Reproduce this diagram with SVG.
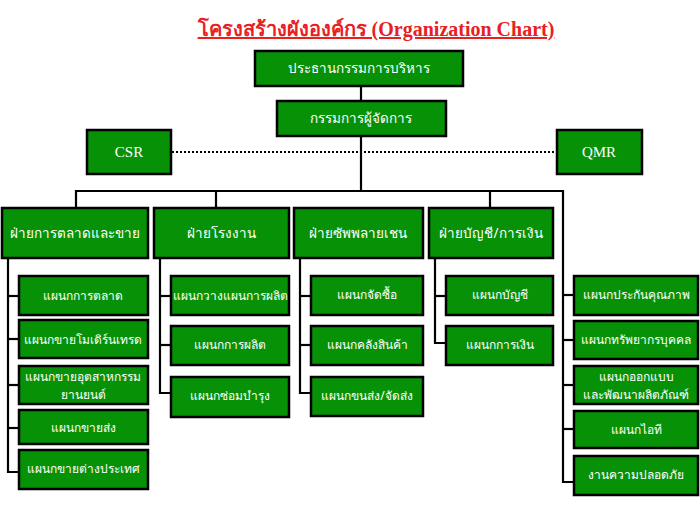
<svg xmlns="http://www.w3.org/2000/svg" width="700" height="520" viewBox="0 0 700 520">
<style>
.box{fill:#079107;stroke:#000;stroke-width:2.5}
.t{fill:#fff;font-family:"Noto Sans","DejaVu Sans",sans-serif;font-size:12px;text-anchor:middle;dominant-baseline:central}
.d{font-size:13.5px}
.s{font-family:"Liberation Serif",serif;font-size:15px}
.ln{stroke:#000;stroke-width:2.2;fill:none}
</style>
<rect width="700" height="520" fill="#fff"/>
<text x="376" y="36" font-family="Liberation Serif,serif" font-weight="bold" font-size="20" fill="#e8201f" text-anchor="middle" text-decoration="underline">โครงสร้างผังองค์กร (Organization Chart)</text>
<g id="connectors">
<line class="ln" x1="361" y1="86" x2="361" y2="100"/>
<line class="ln" x1="361" y1="137" x2="361" y2="191"/>
<line x1="172" y1="152" x2="556" y2="152" stroke="#000" stroke-width="2" stroke-dasharray="2,2"/>
<polyline class="ln" points="76,207 76,191 563,191 563,482 574,482"/>
<line class="ln" x1="216" y1="191" x2="216" y2="207"/>
<line class="ln" x1="490" y1="191" x2="490" y2="207"/>
<line class="ln" x1="563" y1="295" x2="574" y2="295"/>
<line class="ln" x1="563" y1="340" x2="574" y2="340"/>
<line class="ln" x1="563" y1="385" x2="574" y2="385"/>
<line class="ln" x1="563" y1="429" x2="574" y2="429"/>
<polyline class="ln" points="8,258 8,472 18,472"/>
<line class="ln" x1="8" y1="296" x2="18" y2="296"/>
<line class="ln" x1="8" y1="339" x2="18" y2="339"/>
<line class="ln" x1="8" y1="385" x2="18" y2="385"/>
<line class="ln" x1="8" y1="428" x2="18" y2="428"/>
<polyline class="ln" points="160,258 160,393 170,393"/>
<line class="ln" x1="160" y1="296" x2="170" y2="296"/>
<line class="ln" x1="160" y1="345" x2="170" y2="345"/>
<polyline class="ln" points="300,258 300,393 311,393"/>
<line class="ln" x1="300" y1="296" x2="311" y2="296"/>
<line class="ln" x1="300" y1="345" x2="311" y2="345"/>
<polyline class="ln" points="435,258 435,343 446,343"/>
<line class="ln" x1="435" y1="296" x2="446" y2="296"/>
</g>
<g id="ceo"><rect class="box" x="255" y="51" width="208" height="35"/><text class="t d" x="359" y="68">ประธานกรรมการบริหาร</text></g>
<g id="md"><rect class="box" x="277" y="101" width="169" height="35"/><text class="t d" x="361" y="118">กรรมการผู้จัดการ</text></g>
<g id="csr"><rect class="box" x="87" y="130" width="84" height="44"/><text class="t s" x="129" y="152">CSR</text></g>
<g id="qmr"><rect class="box" x="557" y="130" width="85" height="44"/><text class="t s" x="599" y="152">QMR</text></g>
<g id="dep1"><rect class="box" x="2" y="208" width="146" height="50"/><text class="t d" x="75" y="233">ฝ่ายการตลาดและขาย</text></g>
<g id="dep2"><rect class="box" x="154" y="208" width="135" height="50"/><text class="t d" x="221" y="233">ฝ่ายโรงงาน</text></g>
<g id="dep3"><rect class="box" x="294" y="208" width="129" height="50"/><text class="t d" x="358" y="233">ฝ่ายซัพพลายเชน</text></g>
<g id="dep4"><rect class="box" x="429" y="208" width="124" height="50"/><text class="t d" x="491" y="233">ฝ่ายบัญชี/การเงิน</text></g>
<g id="s1a"><rect class="box" x="19" y="276" width="129" height="39"/><text class="t" x="83" y="295">แผนกการตลาด</text></g>
<g id="s1b"><rect class="box" x="19" y="320" width="129" height="38"/><text class="t" x="83" y="339">แผนกขายโมเดิร์นเทรด</text></g>
<g id="s1c"><rect class="box" x="19" y="366" width="129" height="38"/><text class="t" x="83" y="376">แผนกขายอุตสาหกรรม</text><text class="t" x="83" y="394">ยานยนต์</text></g>
<g id="s1d"><rect class="box" x="19" y="410" width="129" height="34"/><text class="t" x="83" y="427">แผนกขายส่ง</text></g>
<g id="s1e"><rect class="box" x="19" y="450" width="129" height="39"/><text class="t" x="83" y="468">แผนกขายต่างประเทศ</text></g>
<g id="s2a"><rect class="box" x="171" y="276" width="118" height="39"/><text class="t" x="230" y="295">แผนกวางแผนการผลิต</text></g>
<g id="s2b"><rect class="box" x="171" y="326" width="118" height="39"/><text class="t" x="230" y="344">แผนกการผลิต</text></g>
<g id="s2c"><rect class="box" x="171" y="377" width="118" height="40"/><text class="t" x="230" y="395">แผนกซ่อมบำรุง</text></g>
<g id="s3a"><rect class="box" x="311" y="276" width="112" height="39"/><text class="t" x="367" y="294">แผนกจัดซื้อ</text></g>
<g id="s3b"><rect class="box" x="311" y="326" width="112" height="39"/><text class="t" x="367" y="344">แผนกคลังสินค้า</text></g>
<g id="s3c"><rect class="box" x="311" y="377" width="112" height="39"/><text class="t" x="367" y="395">แผนกขนส่ง/จัดส่ง</text></g>
<g id="s4a"><rect class="box" x="446" y="276" width="107" height="39"/><text class="t" x="500" y="294">แผนกบัญชี</text></g>
<g id="s4b"><rect class="box" x="446" y="326" width="107" height="39"/><text class="t" x="500" y="344">แผนกการเงิน</text></g>
<g id="r1"><rect class="box" x="574" y="276" width="124" height="39"/><text class="t" x="636" y="294">แผนกประกันคุณภาพ</text></g>
<g id="r2"><rect class="box" x="574" y="321" width="124" height="38"/><text class="t" x="636" y="339">แผนกทรัพยากรบุคคล</text></g>
<g id="r3"><rect class="box" x="574" y="366" width="124" height="38"/><text class="t" x="636" y="376">แผนกออกแบบ</text><text class="t" x="636" y="394">และพัฒนาผลิตภัณฑ์</text></g>
<g id="r4"><rect class="box" x="574" y="411" width="124" height="37"/><text class="t" x="636" y="429">แผนกไอที</text></g>
<g id="r5"><rect class="box" x="574" y="456" width="124" height="39"/><text class="t" x="636" y="474">งานความปลอดภัย</text></g>
</svg>
